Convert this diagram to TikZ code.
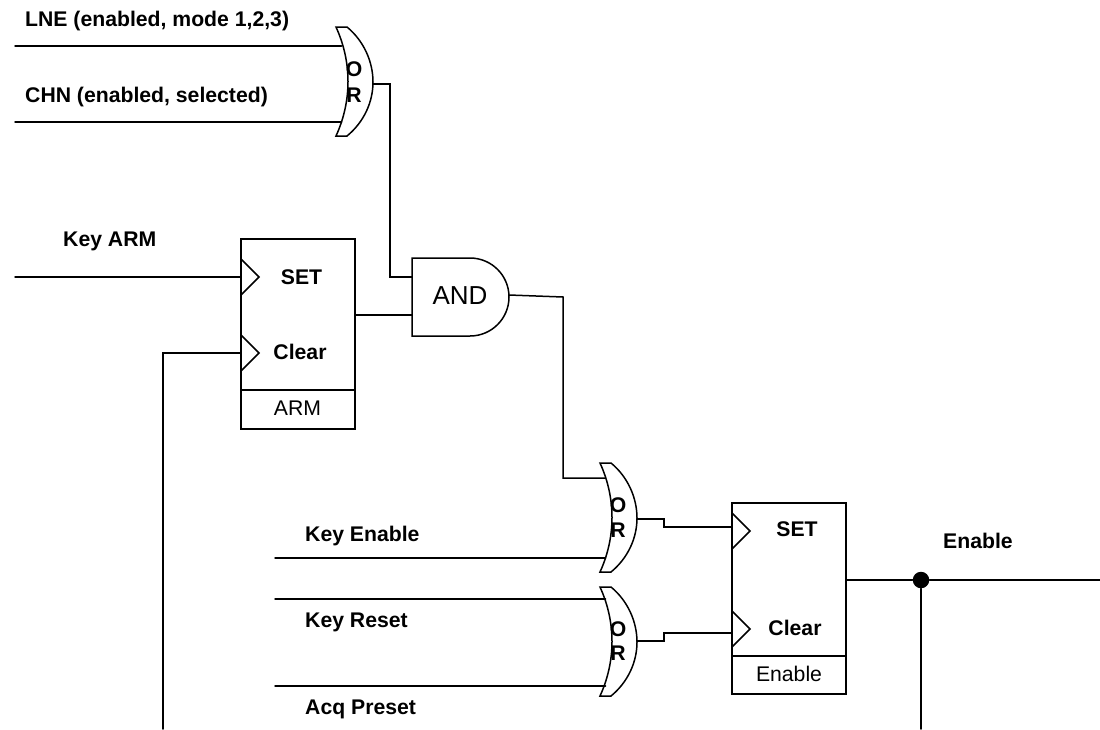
\documentclass[tikz,border=0pt]{standalone}
\usepackage{fontspec}
\setmainfont{Liberation Sans}
\usetikzlibrary{calc}
\tikzset{
  wire/.style={line width=1.5pt,line cap=round,line join=miter},
  lbl/.style={font=\fontsize{21.2}{23}\selectfont\bfseries,inner sep=0pt,anchor=base west},
  midlbl/.style={font=\fontsize{21.2}{23}\selectfont\bfseries,inner sep=0pt},
  plainlbl/.style={font=\fontsize{21.2}{23}\selectfont,inner sep=0pt},
  block/.style={draw,line width=1.5pt,minimum width=114pt,inner sep=0pt},
  pics/orgate/.style n args={3}{code={
    \draw[wire,fill=white] (0,0) -- (11,0) .. controls (28,14) and (37,35) .. (37,55) .. controls (37,75) and (28,95) .. (11,109) -- (0,109) .. controls (16,74) and (16,35) .. cycle;
    \coordinate (-in1) at (5.5,#1);
    \coordinate (-in2) at (5.5,#2);
    \coordinate (-out) at (37,#3);
  }},
  pics/clock/.style={code={
    \draw[wire] (0,-18) -- (18,0) -- (0,18);
  }}
}
\begin{document}
\begin{tikzpicture}[x=1pt,y=-1pt]
\useasboundingbox (0,0) rectangle (1100,729);
% gates
\pic (ora) at (336,27) {orgate={19}{95}{57}};
\pic (orb) at (600,463) {orgate={15}{95}{56}};
\pic (orc) at (600,587) {orgate={12}{99}{54}};
\node[midlbl] (oa1) at (354,69) {O};
\node[midlbl] (oa2) at (354,95) {R};
\node[midlbl] (ob1) at (618,505) {O};
\node[midlbl] (ob2) at (618,530) {R};
\node[midlbl] (oc1) at (618,629) {O};
\node[midlbl] (oc2) at (618,653) {R};
\draw[wire] (412,258) -- (470,258) arc (-90:90:39) -- (412,336) -- cycle;
\coordinate (andin1) at (412,277);
\coordinate (andin2) at (412,315);
\coordinate (andout) at (509,295);
\node[font=\fontsize{26}{28}\selectfont,inner sep=0pt] (andlbl) at (460,295.5) {AND};
% blocks
\node[block,minimum height=190pt] (arm) at (298,334) {};
\draw[wire] (241,390) -- (355,390);
\pic at (241,277) {clock};
\pic at (241,353) {clock};
\coordinate (armset) at (241,277);
\coordinate (armclr) at (241,353);
\coordinate (armout) at (355,315);
\node[midlbl] (armsetl) at (301.5,277) {SET};
\node[midlbl] (armclrl) at (300,352) {Clear};
\node[plainlbl] (armname) at (297.5,408.5) {ARM};
\node[block,minimum height=191pt] (en) at (789,598.5) {};
\draw[wire] (732,656) -- (846,656);
\pic at (732,531) {clock};
\pic at (732,629) {clock};
\coordinate (enset) at (732,527);
\coordinate (enclr) at (732,633);
\coordinate (enout) at (846,580);
\node[midlbl] (ensetl) at (797,529.5) {SET};
\node[midlbl] (enclrl) at (795,628) {Clear};
\node[plainlbl] (enname) at (789,673.5) {Enable};
% free ends
\coordinate (lne) at (15,46);
\coordinate (chn) at (15,122);
\coordinate (keyarm) at (15,277);
\coordinate (clrend) at (163,729);
\coordinate (keyen) at (275,558);
\coordinate (keyrst) at (275,599);
\coordinate (acq) at (275,686);
\coordinate (outend) at (1100,580);
\coordinate (downend) at (921,729);
\node[circle,fill=black,inner sep=0pt,minimum size=16.5pt] (dot) at (921,580) {};
% connectors
\draw[wire] (lne) -- (ora-in1);
\draw[wire] (chn) -- (ora-in2);
\draw[wire] (ora-out) -- (390,84) -- (390,277) -- (andin1);
\draw[wire] (keyarm) -- (armset);
\draw[wire] (clrend) -- (163,353) -- (armclr);
\draw[wire] (armout) -- (andin2);
\draw[wire] (andout) -- (563,297) -- (563,478) -- (orb-in1);
\draw[wire] (keyen) -- (orb-in2);
\draw[wire] (keyrst) -- (orc-in1);
\draw[wire] (acq) -- (orc-in2);
\draw[wire] (orb-out) -- (664,519) -- (664,527) -- (enset);
\draw[wire] (orc-out) -- (664,641) -- (664,633) -- (enclr);
\draw[wire] (enout) -- (dot) -- (outend);
\draw[wire] (dot) -- (downend);
% labels
\node[lbl] (lnel) at (25,26.5) {LNE (enabled, mode 1,2,3)};
\node[lbl] (chnl) at (25,102) {CHN (enabled, selected)};
\node[lbl] (keyarml) at (63,246.5) {Key ARM};
\node[lbl] (keyenl) at (305,541) {Key Enable};
\node[lbl] (keyrstl) at (305,627) {Key Reset};
\node[lbl] (acql) at (305,714) {Acq Preset};
\node[lbl] (enl) at (943,548) {Enable};
\end{tikzpicture}
\end{document}
